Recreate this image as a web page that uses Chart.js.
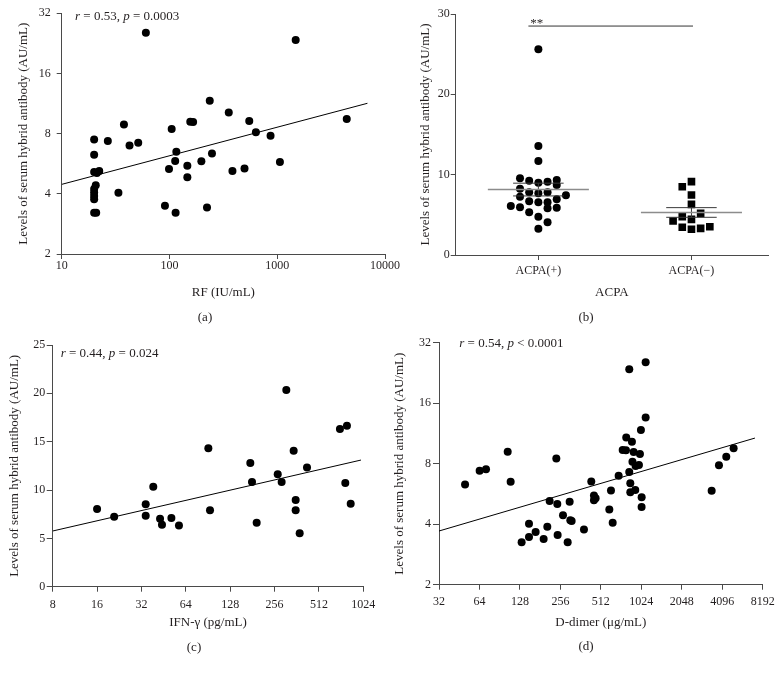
<!DOCTYPE html>
<html><head><meta charset="utf-8">
<script src="https://cdn.jsdelivr.net/npm/chart.js@4.4.1/dist/chart.umd.min.js"></script>
<style>
html,body{margin:0;padding:0;background:#fff;}
#wrap{position:relative;width:783px;height:674px;overflow:hidden;background:#fff;}
canvas{position:absolute;}
</style></head><body>
<div id="wrap">
<canvas id="ca" width="420" height="337" style="left:0px;top:0px;width:420px;height:337px"></canvas>
<canvas id="cb" width="392" height="337" style="left:391px;top:0px;width:392px;height:337px"></canvas>
<canvas id="cc" width="391" height="337" style="left:0px;top:337px;width:391px;height:337px"></canvas>
<canvas id="cd" width="392" height="344" style="left:391px;top:330px;width:392px;height:344px"></canvas>
</div>
<script>
// ---------------- DATA ----------------
// (a) RF vs antibody
const rfX = [60.4,1483,236.5,355,4416,550,156,165.7,37.8,104.8,634,867,20,26.8,51.3,42.6,115.8,248,20,113,197.7,1059,146.5,99,497,384,20,21.2,22.3,146.5,20.7,20,20,20,20,33.6,90.8,223,114,20,20.9];
const rfY = [25.6,23.5,11.7,10.2,9.47,9.26,9.18,9.15,8.9,8.44,8.12,7.82,7.47,7.35,7.21,6.97,6.50,6.36,6.28,5.84,5.82,5.77,5.53,5.33,5.35,5.20,5.14,5.09,5.20,4.84,4.41,4.23,4.06,3.90,3.76,4.05,3.49,3.42,3.22,3.22,3.22];
const rfFitX = [10, 6870];
const rfFitY = [4.46, 11.35];
const rfXTicks = [10, 100, 1000, 10000];
const log2YTicks = [2, 4, 8, 16, 32];

// (b) ACPA groups
const acpaCategories = ['ACPA(+)', 'ACPA(\u2212)'];
const acpaPosX = [1.0,1.0,1.0,0.88,0.94,1.0,1.06,1.12,1.12,0.88,0.94,1.0,1.06,1.18,0.88,1.12,0.94,1.0,1.06,0.82,0.88,1.06,1.12,0.94,1.0,1.06,1.0];
const acpaPosY = [25.6,13.57,11.70,9.55,9.25,9.0,9.12,9.34,8.71,8.25,7.80,7.68,7.80,7.43,7.26,6.93,6.68,6.56,6.56,6.10,5.94,5.81,5.89,5.32,4.77,4.07,3.27];
const acpaNegX = [2.0,1.94,2.0,2.0,2.06,1.94,1.88,2.0,1.94,2.0,2.06,2.12];
const acpaNegY = [9.13,8.50,7.47,6.31,5.19,4.77,4.23,4.44,3.45,3.20,3.32,3.52];
const acpaSigX = [0.935, 2.01];
const acpaSigY = [28.5, 28.5];
const acpaYTicks = [0, 10, 20, 30];

// (c) IFN-gamma
const ifnX = [16.0,20.9,34.2,34.2,38.5,42.8,44.1,51.1,57.5,91.0,93.4,175.3,180,193.6,269,286,307.6,345,356,356,379,425,711,793,773,841];
const ifnY = [8.03,7.24,8.52,7.34,10.34,7.03,6.41,7.10,6.34,14.31,7.90,12.79,10.83,6.62,11.62,10.83,20.34,14.07,8.97,7.90,5.52,12.34,16.31,16.66,10.72,8.59];
const ifnFitX = [8, 987.6];
const ifnFitY = [5.76, 13.10];
const ifnXTicks = [8, 16, 32, 64, 128, 256, 512, 1024];
const ifnYTicks = [0, 5, 10, 15, 20, 25];

// (d) D-dimer
const ddX = [50.0,64.2,71.6,103.8,109.2,131.8,149.5,149.5,167.5,192.2,204.6,213,238.8,242.8,244.2,267.7,290,300,303.5,310.5,383.4,434.6,455,455,468,592,609,627,694.6,744,787,791,833,833,848,848,872,880,898,923,929,983,1000,1017,1030,1029,1103,1103,3417,3872,4389,4978];
const ddY = [6.31,7.38,7.50,9.18,6.51,3.25,4.02,3.45,3.66,3.38,3.89,5.22,8.50,5.04,3.53,4.43,3.25,5.18,4.18,4.15,3.76,6.53,5.55,5.27,5.38,4.74,5.89,4.07,6.97,9.36,9.33,10.81,23.6,7.27,5.77,6.39,10.30,8.18,9.14,5.92,7.79,7.88,8.94,11.77,5.44,4.87,25.6,13.6,5.87,7.85,8.67,9.54];
const ddFitX = [32, 7173];
const ddFitY = [3.70, 10.73];
const ddXTicks = [32, 64, 128, 256, 512, 1024, 2048, 4096, 8192];

// ---------------- STYLE / HELPERS ----------------
const FONT = "'Liberation Serif', 'Times New Roman', serif";
const AX = '#4a4a4a';
const TX = '#231f20';
const YTITLE = 'Levels of serum hybrid antibody (AU/mL)';
const TSIZE = 13;            // axis-title size
const HALF = TSIZE * 1.2 / 2; // half title line height
const DOT = 4;

const pts = (xs, ys) => xs.map((x, i) => ({x: x, y: ys[i]}));

const textPlugin = {
  id: 'panelText',
  afterDraw(chart, args, o) {
    const ctx = chart.ctx;
    ctx.save();
    ctx.fillStyle = TX;
    ctx.textBaseline = 'middle';
    if (o.label) {
      ctx.font = '13px ' + FONT;
      ctx.textAlign = 'center';
      ctx.fillText(o.label, o.labelX, o.labelY);
    }
    if (o.stats) {
      let x = o.statsX;
      ctx.textAlign = 'left';
      for (const seg of o.stats) {
        ctx.font = (seg.i ? 'italic ' : '') + '13px ' + FONT;
        ctx.fillText(seg.t, x, o.statsY);
        x += ctx.measureText(seg.t).width;
      }
    }
    if (o.sig) {
      const px = chart.scales.x.getPixelForValue(o.sig.x);
      const py = chart.scales.y.getPixelForValue(o.sig.y);
      ctx.font = '13px ' + FONT;
      ctx.textAlign = 'center';
      ctx.textBaseline = 'alphabetic';
      ctx.fillText(o.sig.text, px, py + 1);
    }
    ctx.restore();
  }
};

function axis(opts) {
  const a = {
    type: opts.type,
    position: opts.position,
    min: opts.min, max: opts.max,
    border: {display: true, color: AX, width: 1},
    grid: {display: true, drawOnChartArea: false, drawTicks: true, tickLength: opts.tl, color: AX, lineWidth: 1},
    ticks: {color: TX, font: {family: FONT, size: 12, lineHeight: 1}, padding: opts.tp,
            maxRotation: 0, minRotation: 0, autoSkip: false,
            callback: opts.cb || (v => String(v))},
    title: {display: true, text: opts.title, color: TX, font: {family: FONT, size: TSIZE, lineHeight: 1.2},
            padding: opts.titlePad},
    afterFit: opts.fit
  };
  if (opts.tickVals) a.afterBuildTicks = s => { s.ticks = opts.tickVals.map(v => ({value: v})); };
  return a;
}

function scatterSet(xs, ys, style, r) {
  return {data: pts(xs, ys), backgroundColor: '#000', borderWidth: 0, pointRadius: r,
          pointHoverRadius: r, pointStyle: style || 'circle', showLine: false};
}
function lineSet(xs, ys, color, w) {
  return {data: pts(xs, ys), showLine: true, borderColor: color, borderWidth: w,
          pointRadius: 0, pointHoverRadius: 0, fill: false, tension: 0};
}

function base(layoutPad, plugOpts) {
  return {
    responsive: false, animation: false, devicePixelRatio: 1,
    layout: {padding: layoutPad},
    plugins: {legend: {display: false}, tooltip: {enabled: false}, panelText: plugOpts}
  };
}

// ---------------- PANEL (a) ----------------
(function () {
  const W = 420, H = 337, L = 61.7, T = 13.3, R = 385, B = 254;
  const o = base({left: 0, top: T, right: W - R, bottom: 0}, {
    label: '(a)', labelX: 205, labelY: 317.3,
    stats: [{t: 'r', i: true}, {t: ' = 0.53, '}, {t: 'p', i: true}, {t: ' = 0.0003'}],
    statsX: 75, statsY: 16.7
  });
  o.scales = {
    x: axis({type: 'logarithmic', position: 'bottom', min: 10, max: 10000, tickVals: rfXTicks, tl: 5, tp: 0.5,
             title: 'RF (IU/mL)', titlePad: {top: 0, bottom: (H - 292.3) - HALF}, fit: s => { s.height = H - B; }}),
    y: axis({type: 'logarithmic', position: 'left', min: 2, max: 32, tickVals: log2YTicks, tl: 5, tp: 6,
             title: YTITLE, titlePad: {top: 24 - HALF, bottom: 0}, fit: s => { s.width = L; }})
  };
  new Chart(document.getElementById('ca'), {
    type: 'scatter',
    data: {datasets: [lineSet(rfFitX, rfFitY, '#000', 1), scatterSet(rfX, rfY, 'circle', DOT)]},
    options: o, plugins: [textPlugin]
  });
})();

// ---------------- PANEL (b) ----------------
(function () {
  const W = 392, H = 337, L = 64.7, T = 14, R = 377, B = 255;
  const stats = (ys) => {
    const n = ys.length, m = ys.reduce((a, b) => a + b, 0) / n;
    const sd = Math.sqrt(ys.reduce((a, b) => a + (b - m) * (b - m), 0) / (n - 1));
    return {m: m, se: sd / Math.sqrt(n)};
  };
  const sp = stats(acpaPosY), sn = stats(acpaNegY);
  const halfMean = 0.33, halfSem = 0.165;
  const groupLines = (c, s) => [
    lineSet([c - halfMean, c + halfMean], [s.m, s.m], '#8c8c8c', 1.6),
    lineSet([c - halfSem, c + halfSem], [s.m + s.se, s.m + s.se], '#3a3a3a', 1),
    lineSet([c - halfSem, c + halfSem], [s.m - s.se, s.m - s.se], '#3a3a3a', 1),
    lineSet([c, c], [s.m - s.se, s.m + s.se], '#3a3a3a', 1)
  ];
  const o = base({left: 0, top: T, right: W - R, bottom: 0}, {
    label: '(b)', labelX: 195, labelY: 317.3,
    sig: {text: '**', x: 0.99, y: acpaSigY[0]}
  });
  o.scales = {
    x: axis({type: 'linear', position: 'bottom', min: 0.46, max: 2.5, tickVals: [1, 2], tl: 5, tp: 4.5,
             cb: v => acpaCategories[Math.round(v) - 1] || '',
             title: 'ACPA', titlePad: {top: 0, bottom: (H - 292.7) - HALF}, fit: s => { s.height = H - B; }}),
    y: axis({type: 'linear', position: 'left', min: 0, max: 30, tickVals: acpaYTicks, tl: 5, tp: 1,
             title: YTITLE, titlePad: {top: 34.7 - HALF, bottom: 0}, fit: s => { s.width = L; }})
  };
  new Chart(document.getElementById('cb'), {
    type: 'scatter',
    data: {datasets: [
      ...groupLines(1, sp), ...groupLines(2, sn),
      lineSet(acpaSigX, acpaSigY, '#333', 1),
      scatterSet(acpaPosX, acpaPosY, 'circle', DOT),
      scatterSet(acpaNegX, acpaNegY, 'rect', 5.4)
    ]},
    options: o, plugins: [textPlugin]
  });
})();

// ---------------- PANEL (c) ----------------
(function () {
  const W = 391, H = 337, L = 52.7, T = 8, R = 363.3, B = 249.7;
  const o = base({left: 0, top: T, right: W - R, bottom: 0}, {
    label: '(c)', labelX: 194, labelY: 310.3,
    stats: [{t: 'r', i: true}, {t: ' = 0.44, '}, {t: 'p', i: true}, {t: ' = 0.024'}],
    statsX: 60.7, statsY: 17
  });
  o.scales = {
    x: axis({type: 'logarithmic', position: 'bottom', min: 8, max: 1024, tickVals: ifnXTicks, tl: 5, tp: 7,
             title: 'IFN-\u03b3 (pg/mL)', titlePad: {top: 0, bottom: (H - 285.7) - HALF}, fit: s => { s.height = H - B; }}),
    y: axis({type: 'linear', position: 'left', min: 0, max: 25, tickVals: ifnYTicks, tl: 6, tp: 1.5,
             title: YTITLE, titlePad: {top: 15 - HALF, bottom: 0}, fit: s => { s.width = L; }})
  };
  new Chart(document.getElementById('cc'), {
    type: 'scatter',
    data: {datasets: [lineSet(ifnFitX, ifnFitY, '#000', 1), scatterSet(ifnX, ifnY, 'circle', DOT)]},
    options: o, plugins: [textPlugin]
  });
})();

// ---------------- PANEL (d) ----------------
(function () {
  const W = 392, H = 344, L = 48, T = 12.7, R = 371.7, B = 254.7;
  const o = base({left: 0, top: T, right: W - R, bottom: 0}, {
    label: '(d)', labelX: 195, labelY: 317,
    stats: [{t: 'r', i: true}, {t: ' = 0.54, '}, {t: 'p', i: true}, {t: ' < 0.0001'}],
    statsX: 68.3, statsY: 14
  });
  o.scales = {
    x: axis({type: 'logarithmic', position: 'bottom', min: 32, max: 8192, tickVals: ddXTicks, tl: 5, tp: 6,
             title: 'D-dimer (\u03bcg/mL)', titlePad: {top: 0, bottom: (H - 292.7) - HALF}, fit: s => { s.height = H - B; }}),
    y: axis({type: 'logarithmic', position: 'left', min: 2, max: 32, tickVals: log2YTicks, tl: 6, tp: 2,
             title: YTITLE, titlePad: {top: Math.max(9 - HALF, 0), bottom: 0}, fit: s => { s.width = L; }})
  };
  new Chart(document.getElementById('cd'), {
    type: 'scatter',
    data: {datasets: [lineSet(ddFitX, ddFitY, '#000', 1), scatterSet(ddX, ddY, 'circle', DOT)]},
    options: o, plugins: [textPlugin]
  });
})();
</script>
</body></html>
